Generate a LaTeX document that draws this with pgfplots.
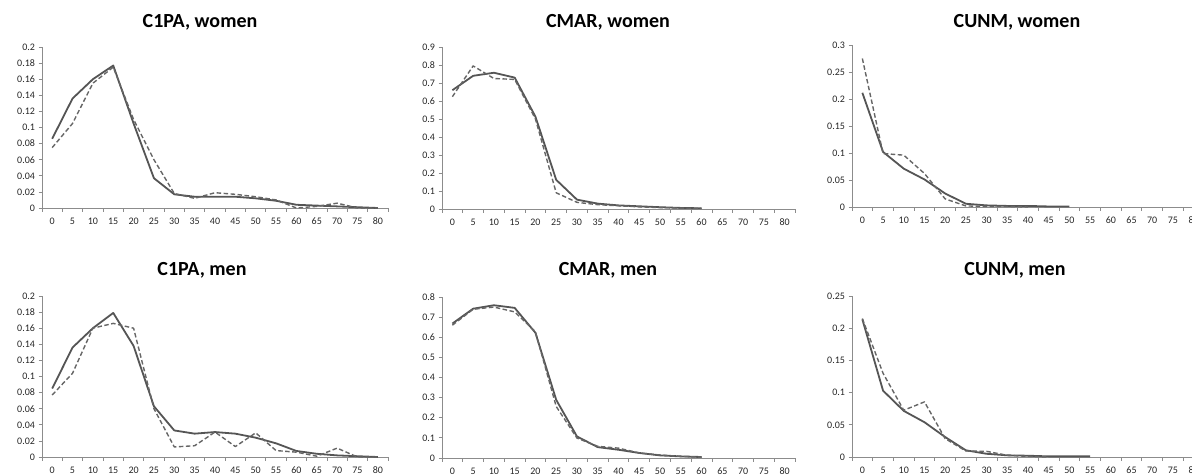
\documentclass[border=0pt]{standalone}
\usepackage{fontspec}
\setmainfont{Carlito}
\usepackage{pgfplots}
\pgfplotsset{compat=1.18}
\definecolor{axgray}{HTML}{8C8C8C}
\definecolor{lngray}{HTML}{555555}
\definecolor{dsgray}{HTML}{666666}
\pgfplotsset{
  exc/.style={
    scale only axis, anchor=south west,
    axis x line*=bottom, axis y line*=left,
    axis line style={draw=axgray, line width=0.8pt, -},
    tick style={draw=axgray, line width=0.8pt},
    tick align=outside,
    xmin=-2.5, xmax=82.5, ymin=0,
    xtick={0,5,10,15,20,25,30,35,40,45,50,55,60,65,70,75,80},
    minor xtick={-2.5,2.5,7.5,12.5,17.5,22.5,27.5,32.5,37.5,42.5,47.5,52.5,57.5,62.5,67.5,72.5,77.5,82.5},
    every major x tick/.style={draw=none},
    major tick length=3.5pt, minor tick length=3.5pt,
    tick label style={font=\fontsize{10}{10}\selectfont, text=black!85},
    /pgf/number format/assume math mode=true,
    yticklabel style={/pgf/number format/fixed, /pgf/number format/precision=2},
    xticklabel style={yshift=-3pt},
    clip=false,
  },
  sol/.style={color=lngray, line width=1.8pt, line join=round},
  das/.style={color=dsgray, line width=1.4pt, dash pattern=on 4.5pt off 2.5pt, line join=round},
}
\begin{document}
\begin{tikzpicture}
\path[use as bounding box] (0,0) rectangle (1192pt,475pt);
% ---------------- C1PA women
\begin{axis}[exc, at={(42pt,267pt)}, width=346pt, height=161pt, ymax=0.2,
  ytick={0,0.02,0.04,0.06,0.08,0.1,0.12,0.14,0.16,0.18,0.2}]
\addplot[sol] coordinates {(0,0.086)(5,0.136)(10,0.16)(15,0.177)(20,0.105)(25,0.037)(30,0.017)(35,0.014)(40,0.014)(45,0.014)(50,0.012)(55,0.009)(60,0.004)(65,0.003)(70,0.002)(75,0.001)(80,0)};
\addplot[das] coordinates {(0,0.075)(5,0.105)(10,0.155)(15,0.175)(20,0.11)(25,0.06)(30,0.018)(35,0.012)(40,0.019)(45,0.017)(50,0.014)(55,0.01)(60,0.0)(65,0.002)(70,0.006)(75,0.0)(80,0)};
\end{axis}
% ---------------- CMAR women
\begin{axis}[exc, at={(442pt,266pt)}, width=353pt, height=162pt, ymax=0.9,
  ytick={0,0.1,0.2,0.3,0.4,0.5,0.6,0.7,0.8,0.9}]
\addplot[sol] coordinates {(0,0.66)(5,0.74)(10,0.757)(15,0.73)(20,0.513)(25,0.162)(30,0.052)(35,0.03)(40,0.02)(45,0.015)(50,0.01)(55,0.006)(60,0.004)};
\addplot[das] coordinates {(0,0.624)(5,0.795)(10,0.725)(15,0.72)(20,0.50)(25,0.09)(30,0.037)(35,0.024)(40,0.018)(45,0.012)(50,0.008)(55,0.005)(60,0.003)};
\end{axis}
% ---------------- CUNM women
\begin{axis}[exc, at={(852pt,268pt)}, width=352pt, height=162pt, ymax=0.3,
  ytick={0,0.05,0.1,0.15,0.2,0.25,0.3}]
\addplot[sol] coordinates {(0,0.2115)(5,0.102)(10,0.071)(15,0.051)(20,0.025)(25,0.006)(30,0.003)(35,0.002)(40,0.002)(45,0.001)(50,0.001)};
\addplot[das] coordinates {(0,0.275)(5,0.099)(10,0.096)(15,0.062)(20,0.015)(25,0.002)(30,0.001)(35,0.001)(40,0.0)};
\end{axis}
% ---------------- C1PA men
\begin{axis}[exc, at={(42pt,18pt)}, width=346pt, height=161pt, ymax=0.2,
  ytick={0,0.02,0.04,0.06,0.08,0.1,0.12,0.14,0.16,0.18,0.2}]
\addplot[sol] coordinates {(0,0.085)(5,0.136)(10,0.16)(15,0.179)(20,0.138)(25,0.063)(30,0.033)(35,0.029)(40,0.031)(45,0.029)(50,0.024)(55,0.017)(60,0.0075)(65,0.004)(70,0.002)(75,0.001)(80,0)};
\addplot[das] coordinates {(0,0.077)(5,0.104)(10,0.16)(15,0.166)(20,0.16)(25,0.06)(30,0.0125)(35,0.014)(40,0.031)(45,0.013)(50,0.03)(55,0.008)(60,0.006)(65,0.001)(70,0.011)(75,0.0)(80,0)};
\end{axis}
% ---------------- CMAR men
\begin{axis}[exc, at={(442pt,17pt)}, width=353pt, height=161pt, ymax=0.8,
  ytick={0,0.1,0.2,0.3,0.4,0.5,0.6,0.7,0.8}]
\addplot[sol] coordinates {(0,0.668)(5,0.742)(10,0.759)(15,0.746)(20,0.622)(25,0.289)(30,0.107)(35,0.054)(40,0.041)(45,0.025)(50,0.013)(55,0.008)(60,0.005)};
\addplot[das] coordinates {(0,0.66)(5,0.739)(10,0.75)(15,0.726)(20,0.627)(25,0.256)(30,0.099)(35,0.058)(40,0.049)(45,0.025)(50,0.015)(55,0.008)(60,0.004)};
\end{axis}
% ---------------- CUNM men
\begin{axis}[exc, at={(852pt,18pt)}, width=352pt, height=161pt, ymax=0.25,
  ytick={0,0.05,0.1,0.15,0.2,0.25}]
\addplot[sol] coordinates {(0,0.2137)(5,0.103)(10,0.0716)(15,0.054)(20,0.031)(25,0.0104)(30,0.005)(35,0.0026)(40,0.002)(45,0.001)(50,0.001)(55,0.001)};
\addplot[das] coordinates {(0,0.215)(5,0.13)(10,0.0726)(15,0.0856)(20,0.0285)(25,0.0093)(30,0.0088)(35,0.0026)(40,0.001)(45,0.0)};
\end{axis}
% titles
\begin{scope}[every node/.style={font=\bfseries\fontsize{20}{20}\selectfont, text=black}]
\node at (200pt,453pt) {C1PA, women};
\node at (608pt,453pt) {CMAR, women};
\node at (1017pt,453pt) {CUNM, women};
\node at (202pt,205pt) {C1PA, men};
\node at (608pt,205pt) {CMAR, men};
\node at (1015pt,205pt) {CUNM, men};
\end{scope}
\end{tikzpicture}
\end{document}
